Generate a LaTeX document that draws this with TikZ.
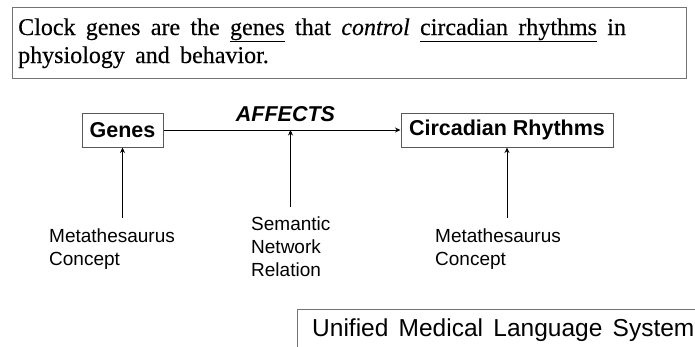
\documentclass[tikz,border=0pt]{standalone}
\usepackage{fontspec}
\setmainfont{Liberation Serif}
\newfontfamily\deffont[FakeBold=0.3]{Liberation Serif}
\newfontfamily\arialf{Liberation Sans}
\newcommand\myul[1]{\setbox0\hbox{#1}\rlap{\rule[-7pt]{\wd0}{1.2pt}}\box0\relax}
\usetikzlibrary{arrows.meta}
\begin{document}
\begin{tikzpicture}[x=1pt,y=-1pt,
  frame/.style={draw=black!55, line width=1pt},
  conceptbox/.style={draw=black!65, line width=1pt, inner sep=0pt,
    minimum height=34pt, font=\arialf\bfseries\fontsize{21.5}{24}\selectfont},
  lbl/.style={font=\arialf\fontsize{19}{23}\selectfont, align=left,
    anchor=base west, inner sep=0pt},
  deftext/.style={font=\deffont\fontsize{24}{28}\selectfont, anchor=base west, inner sep=0pt},
  conn/.style={line width=0.9pt, -{Stealth[length=5.5pt,width=5pt]}}]
\useasboundingbox (0,0) rectangle (695,346);

% definition box
\node[frame, anchor=north west, minimum width=674pt, minimum height=71pt, inner sep=0pt] (defbox) at (12,6.5) {};
\node[deftext] (def1) at (18,35)
  {\spaceskip=.43em plus 0pt Clock genes are the \myul{genes} that \textit{control} \myul{circadian rhythms} in};
\node[deftext] (def2) at (18,63)
  {\spaceskip=.43em plus 0pt physiology and behavior.};

% concept boxes
\node[conceptbox, minimum width=81pt] (genes) at (122.5,130) {Genes};
\node[conceptbox, minimum width=212pt] (cr) at (507,130) {Circadian Rhythms};
\node[font=\arialf\bfseries\itshape\fontsize{21.5}{24}\selectfont, anchor=base, inner sep=0pt] (rel) at (285.5,121) {AFFECTS};
\draw[conn] (genes.east) -- (cr.west);

% labels (base = baseline of last line)
\node[lbl] (m1) at (49,265) {Metathesaurus\\Concept};
\node[lbl] (sn) at (251,276) {Semantic\\Network\\Relation};
\node[lbl] (m2) at (435,265) {Metathesaurus\\Concept};

\coordinate (f1) at (122.5,218);
\coordinate (f2) at (290.5,207);
\coordinate (f3) at (507,218);
\coordinate (mid) at (290.5,130);
\draw[conn] (f1) -- (genes.south);
\draw[conn] (f2) -- (mid);
\draw[conn] (f3) -- (cr.south);

% UMLS box
\draw[frame] (297,350) -- (297,309) -- (700,309);
\node[font=\arialf\fontsize{24.5}{28}\selectfont, anchor=base west, inner sep=0pt] (umls) at (312,336)
  {\spaceskip=.42em plus 0pt Unified Medical Language System};
\end{tikzpicture}
\end{document}
